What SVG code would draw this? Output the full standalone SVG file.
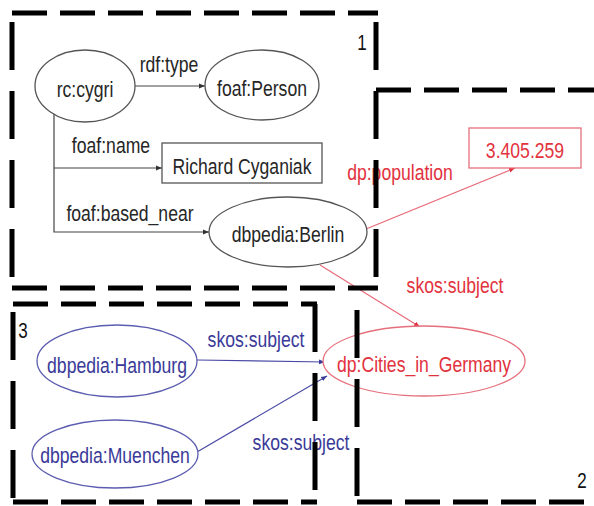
<svg xmlns="http://www.w3.org/2000/svg" width="594" height="506" viewBox="0 0 594 506">
  <defs>
    <style>
      .t { font-family: "Liberation Sans", Arial, sans-serif; font-size: 17.6px; text-anchor: middle; }
      .dark { fill: #262626; }
      .red { fill: #e2323e; }
      .blue { fill: #3a3a98; }
      .num { font-family: "Liberation Sans", Arial, sans-serif; font-size: 17px; fill: #111; text-anchor: middle; }
      .hx { stroke: #000; stroke-width: 5; stroke-dasharray: 35 13; fill: none; }
      .vy { stroke: #000; stroke-width: 5; stroke-dasharray: 48 21; fill: none; }
      .ng { fill: #fff; stroke: #555; stroke-width: 1.3; }
      .nr { fill: #fff; stroke: #e5707c; stroke-width: 1.3; }
      .nb { fill: #fff; stroke: #5c5cb0; stroke-width: 1.3; }
      .eg { stroke: #444; stroke-width: 1.2; fill: none; }
      .er { stroke: #e86a78; stroke-width: 1.2; fill: none; }
      .eb { stroke: #4a4aa6; stroke-width: 1.2; fill: none; }
    </style>
    <marker id="ag" viewBox="0 0 10 10" refX="10" refY="5" markerWidth="6" markerHeight="6" orient="auto" markerUnits="userSpaceOnUse">
      <path d="M0,1 L10,5 L0,9 z" fill="#333"/>
    </marker>
    <marker id="ar" viewBox="0 0 10 10" refX="10" refY="5" markerWidth="6" markerHeight="6" orient="auto" markerUnits="userSpaceOnUse">
      <path d="M0,1 L10,5 L0,9 z" fill="#e03040"/>
    </marker>
    <marker id="ab" viewBox="0 0 10 10" refX="10" refY="5" markerWidth="6" markerHeight="6" orient="auto" markerUnits="userSpaceOnUse">
      <path d="M0,1 L10,5 L0,9 z" fill="#3a3a98"/>
    </marker>
  </defs>
  <rect width="594" height="506" fill="#fff"/>

  <!-- connectors -->
  <g id="connectors">
    <line class="eg" x1="135" y1="86" x2="205" y2="86" marker-end="url(#ag)"/>
    <path class="eg" d="M54,113 V232 H209" marker-end="url(#ag)"/>
    <line class="eg" x1="54" y1="168" x2="162" y2="168" marker-end="url(#ag)"/>
    <line class="er" x1="366" y1="229" x2="515" y2="168" marker-end="url(#ar)"/>
    <line class="er" x1="320" y1="265" x2="420" y2="327" marker-end="url(#ar)"/>
    <line class="eb" x1="197" y1="360" x2="325" y2="362" marker-end="url(#ab)"/>
    <line class="eb" x1="197" y1="452" x2="327" y2="376" marker-end="url(#ab)"/>
    <text class="t dark" transform="translate(169,72) scale(1,1.3)">rdf:type</text>
    <text class="t dark" transform="translate(111,153) scale(1,1.3)">foaf:name</text>
    <text class="t dark" transform="translate(130,221) scale(1,1.3)">foaf:based_near</text>
    <text class="t red" transform="translate(400,180) scale(1,1.3)">dp:population</text>
    <text class="t red" transform="translate(455,293) scale(1,1.3)">skos:subject</text>
    <text class="t blue" transform="translate(256,347) scale(1,1.3)">skos:subject</text>
    <text class="t blue" transform="translate(301,450) scale(1,1.3)">skos:subject</text>
  </g>

  <g id="rc-cygri">
    <ellipse class="ng" cx="85" cy="86" rx="50" ry="36"/>
    <text class="t dark" transform="translate(85,97) scale(1,1.3)">rc:cygri</text>
  </g>
  <g id="foaf-person">
    <ellipse class="ng" cx="262" cy="85" rx="57" ry="35"/>
    <text class="t dark" transform="translate(262,96) scale(1,1.3)">foaf:Person</text>
  </g>
  <g id="richard-cyganiak">
    <rect class="ng" x="162" y="143" width="160" height="40"/>
    <text class="t dark" transform="translate(242,174) scale(1,1.3)">Richard Cyganiak</text>
  </g>
  <g id="dbpedia-berlin">
    <ellipse class="ng" cx="288" cy="232" rx="79" ry="35"/>
    <text class="t dark" transform="translate(288,242) scale(1,1.3)">dbpedia:Berlin</text>
  </g>
  <g id="population-value">
    <rect class="nr" x="469" y="128" width="112" height="40"/>
    <text class="t red" transform="translate(525,158) scale(1,1.3)">3.405.259</text>
  </g>
  <g id="cities-in-germany">
    <ellipse class="nr" cx="424" cy="361" rx="101" ry="35"/>
    <text class="t red" transform="translate(424,372) scale(1,1.3)">dp:Cities_in_Germany</text>
  </g>
  <g id="dbpedia-hamburg">
    <ellipse class="nb" cx="117" cy="361" rx="80" ry="36"/>
    <text class="t blue" transform="translate(117,373) scale(1,1.3)">dbpedia:Hamburg</text>
  </g>
  <g id="dbpedia-muenchen">
    <ellipse class="nb" cx="115" cy="454" rx="83" ry="34"/>
    <text class="t blue" transform="translate(115,463) scale(1,1.3)">dbpedia:Muenchen</text>
  </g>

  <!-- dashed region frames, drawn over the graph -->
  <g id="frames">
    <!-- region 1 -->
    <line class="hx" x1="12" y1="13" x2="378" y2="13"/>
    <line class="vy" x1="12" y1="22" x2="12" y2="280"/>
    <line class="vy" x1="376" y1="22" x2="376" y2="280"/>
    <line class="hx" x1="12" y1="288" x2="378" y2="288"/>
    <!-- region 2 -->
    <line class="hx" x1="376" y1="90" x2="600" y2="90"/>
    <line class="vy" x1="357" y1="310" x2="357" y2="502" stroke-dasharray="28 44 50 20 48" />
    <line class="hx" x1="357" y1="502" x2="600" y2="502"/>
    <!-- region 3 -->
    <line class="hx" x1="13" y1="304" x2="317" y2="304"/>
    <line class="vy" x1="13" y1="312" x2="13" y2="502"/>
    <line class="vy" x1="315" y1="304" x2="315" y2="502"/>
    <line class="hx" x1="13" y1="502" x2="317" y2="502"/>
    <text class="num" transform="translate(362,50) scale(1,1.3)">1</text>
    <text class="num" transform="translate(582,488) scale(1,1.3)">2</text>
    <text class="num" transform="translate(23,338) scale(1,1.3)">3</text>
  </g>
</svg>
